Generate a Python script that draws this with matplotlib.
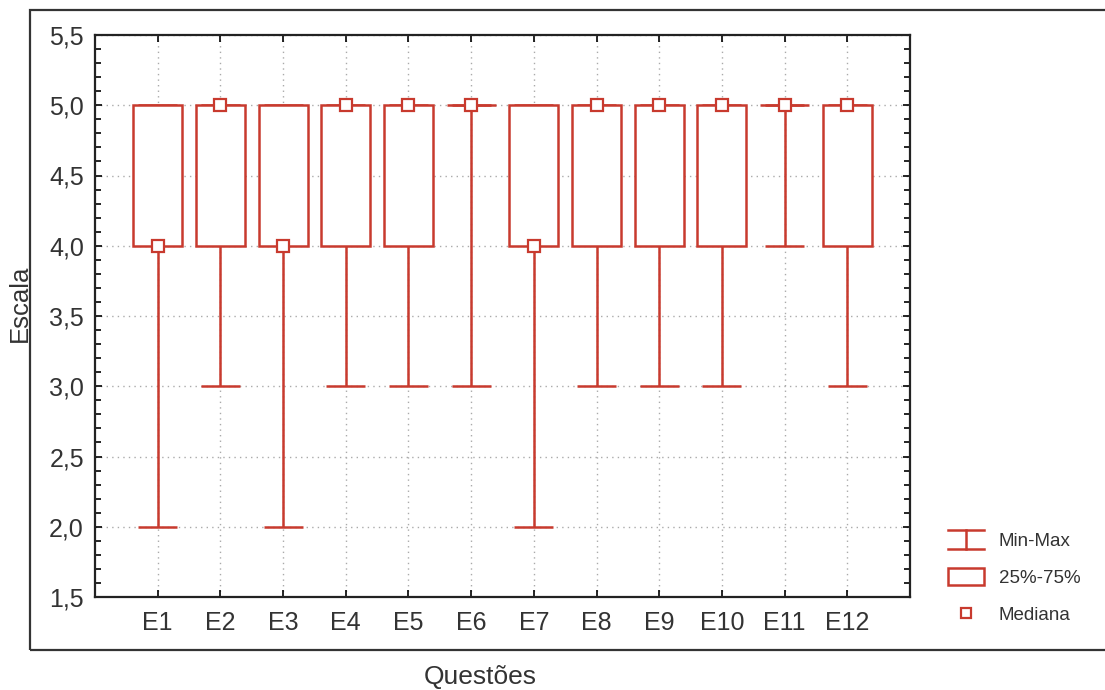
import matplotlib
matplotlib.use("Agg")
import matplotlib.pyplot as plt
from matplotlib.patches import Rectangle
from matplotlib.lines import Line2D
from matplotlib.legend_handler import HandlerBase
from matplotlib.ticker import MultipleLocator

plt.rcParams["font.family"] = ["Liberation Sans", "DejaVu Sans"]

# Box plot summary per question (min, Q1, median, Q3, max)
questions = ["E1", "E2", "E3", "E4", "E5", "E6", "E7", "E8", "E9", "E10", "E11", "E12"]
mins = [2, 3, 2, 3, 3, 3, 2, 3, 3, 3, 4, 3]
q1s = [4, 4, 4, 4, 4, 5, 4, 4, 4, 4, 5, 4]
medians = [4, 5, 4, 5, 5, 5, 4, 5, 5, 5, 5, 5]
q3s = [5, 5, 5, 5, 5, 5, 5, 5, 5, 5, 5, 5]
maxs = [5, 5, 5, 5, 5, 5, 5, 5, 5, 5, 5, 5]

RED = "#c83a2e"
W, H = 1105, 690

fig = plt.figure(figsize=(W / 100, H / 100), dpi=100)

# outer frame like the Statistica page border
fig.add_artist(Rectangle((30 / W, 1 - 650 / H), 1.2, 640 / H, transform=fig.transFigure,
                         fill=False, edgecolor="#333333", linewidth=1.6))

ax = fig.add_axes([95 / W, 1 - 597 / H, (910 - 95) / W, (597 - 35) / H])

pos = list(range(1, len(questions) + 1))
box_w = 0.78
cap_w = 0.62

# whiskers and caps
ax.vlines(pos, mins, maxs, color=RED, linewidth=1.8, zorder=3)
ax.hlines(mins, [p - cap_w / 2 for p in pos], [p + cap_w / 2 for p in pos],
          color=RED, linewidth=1.8, zorder=3)
ax.hlines(maxs, [p - cap_w / 2 for p in pos], [p + cap_w / 2 for p in pos],
          color=RED, linewidth=1.8, zorder=3)

# boxes (white fill hides the inner whisker)
for p, lo, hi in zip(pos, q1s, q3s):
    ax.add_patch(Rectangle((p - box_w / 2, lo), box_w, hi - lo, facecolor="white",
                           edgecolor=RED, linewidth=1.8, zorder=4))

# medians
ax.plot(pos, medians, linestyle="none", marker="s", markersize=9,
        markerfacecolor="white", markeredgecolor=RED, markeredgewidth=1.6, zorder=5)

ax.set_xlim(0, 13)
ax.set_ylim(1.5, 5.5)
ax.set_xticks(pos)
ax.set_xticklabels(questions, fontsize=18, color="#333333")
ax.yaxis.set_major_locator(MultipleLocator(0.5))
ax.yaxis.set_minor_locator(MultipleLocator(0.1))
ax.set_yticklabels([f"{v:.1f}".replace(".", ",") for v in ax.get_yticks()],
                   fontsize=18, color="#333333")
ax.tick_params(which="both", direction="in", top=True, right=True, length=5, width=1.2)
ax.tick_params(which="minor", length=4)
ax.tick_params(axis="x", pad=10)
ax.tick_params(axis="y", pad=8)
ax.grid(True, which="major", linestyle=(0, (1, 3)), color="#aaaaaa", linewidth=1.0)
ax.set_axisbelow(True)
for s in ax.spines.values():
    s.set_linewidth(1.6)
    s.set_color("#222222")

fig.text(20 / W, 1 - 303 / H, "Escala", rotation=90, ha="center", va="center",
         fontsize=18.5, color="#333333")
fig.text(480 / W, 1 - 677 / H, "Questões", ha="center", va="center",
         fontsize=19, color="#333333")


class MinMaxHandler(HandlerBase):
    def create_artists(self, legend, orig_handle, x0, y0, width, height, fontsize, trans):
        cx = x0 + width / 2
        top = y0 + 1.25 * height
        bot = y0 - 0.25 * height
        lines = [
            Line2D([x0, x0 + width], [top, top]),
            Line2D([x0, x0 + width], [bot, bot]),
            Line2D([cx, cx], [bot, top]),
        ]
        for ln in lines:
            ln.set_color(RED)
            ln.set_linewidth(1.8)
            ln.set_transform(trans)
        return lines


class BoxHandler(HandlerBase):
    def create_artists(self, legend, orig_handle, x0, y0, width, height, fontsize, trans):
        r = Rectangle((x0, y0 - 0.15 * height), width, 1.3 * height, facecolor="white",
                      edgecolor=RED, linewidth=1.8, transform=trans)
        return [r]


minmax_h = Line2D([], [], color=RED)
box_h = Rectangle((0, 0), 1, 1)
med_h = Line2D([], [], linestyle="none", marker="s", markersize=7,
               markerfacecolor="white", markeredgecolor=RED, markeredgewidth=1.6)

fig.legend([minmax_h, box_h, med_h], ["Min-Max", "25%-75%", "Mediana"],
           handler_map={minmax_h: MinMaxHandler(), box_h: BoxHandler()},
           loc="upper left", bbox_to_anchor=(931 / W, 1 - 516 / H), frameon=False,
           fontsize=13.5, handlelength=1.9, handletextpad=0.8, labelspacing=1.05,
           labelcolor="#333333")

fig.savefig("out.png", dpi=100, facecolor="white")
